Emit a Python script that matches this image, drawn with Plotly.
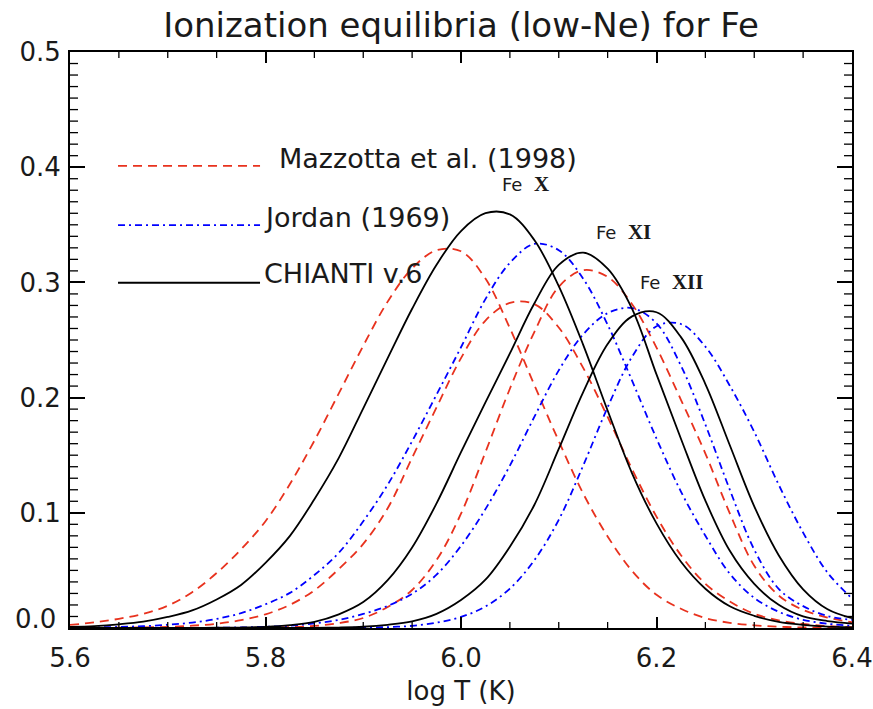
import plotly.graph_objects as go

# ---------------- data ----------------
log_t = [5.600, 5.625, 5.650, 5.675, 5.700, 5.725, 5.750, 5.775, 5.800, 5.825,
         5.850, 5.875, 5.900, 5.925, 5.950, 5.975, 6.000, 6.025, 6.050, 6.075,
         6.100, 6.125, 6.150, 6.175, 6.200, 6.225, 6.250, 6.275, 6.300, 6.325,
         6.350, 6.375, 6.400]

# Mazzotta et al. (1998)
mazz_fe10 = [0.0027, 0.0049, 0.0080, 0.0123, 0.0194, 0.0311, 0.0477, 0.0683, 0.0927, 0.1250,
             0.1626, 0.2036, 0.2450, 0.2833, 0.3122, 0.3279, 0.3270, 0.3033, 0.2603, 0.2110,
             0.1623, 0.1167, 0.0795, 0.0495, 0.0288, 0.0167, 0.0086, 0.0045, 0.0023, 0.0011,
             0.0005, 0.0002, 0.0001]
mazz_fe11 = [0.0001, 0.0001, 0.0003, 0.0005, 0.0010, 0.0020, 0.0037, 0.0068, 0.0119, 0.0201,
             0.0327, 0.0512, 0.0730, 0.1040, 0.1478, 0.1915, 0.2343, 0.2669, 0.2822, 0.2812,
             0.2608, 0.2258, 0.1832, 0.1379, 0.0967, 0.0632, 0.0384, 0.0230, 0.0123, 0.0067,
             0.0035, 0.0017, 0.0008]
mazz_fe12 = [0.0000, 0.0000, 0.0000, 0.0000, 0.0000, 0.0000, 0.0000, 0.0001, 0.0003, 0.0008,
             0.0018, 0.0042, 0.0087, 0.0182, 0.0330, 0.0590, 0.0992, 0.1526, 0.2077, 0.2569,
             0.2962, 0.3106, 0.3048, 0.2811, 0.2434, 0.1981, 0.1514, 0.0995, 0.0540, 0.0282,
             0.0157, 0.0090, 0.0050]

# Jordan (1969)
jord_fe10 = [0.0002, 0.0005, 0.0009, 0.0016, 0.0028, 0.0047, 0.0079, 0.0129, 0.0206, 0.0305,
             0.0460, 0.0653, 0.0926, 0.1244, 0.1622, 0.2026, 0.2437, 0.2855, 0.3170, 0.3334,
             0.3280, 0.3032, 0.2633, 0.2147, 0.1645, 0.1184, 0.0801, 0.0471, 0.0261, 0.0141,
             0.0071, 0.0037, 0.0019]
jord_fe11 = [0.0000, 0.0000, 0.0000, 0.0000, 0.0001, 0.0001, 0.0002, 0.0005, 0.0011, 0.0020,
             0.0040, 0.0071, 0.0122, 0.0192, 0.0297, 0.0463, 0.0713, 0.1032, 0.1410, 0.1832,
             0.2236, 0.2549, 0.2733, 0.2777, 0.2645, 0.2277, 0.1766, 0.1200, 0.0680, 0.0340,
             0.0190, 0.0104, 0.0071]
jord_fe12 = [0.0000, 0.0000, 0.0000, 0.0000, 0.0000, 0.0000, 0.0000, 0.0000, 0.0000, 0.0000,
             0.0000, 0.0001, 0.0003, 0.0008, 0.0019, 0.0047, 0.0096, 0.0187, 0.0342, 0.0588,
             0.0939, 0.1410, 0.1916, 0.2354, 0.2619, 0.2639, 0.2442, 0.2103, 0.1702, 0.1244,
             0.0828, 0.0480, 0.0256]

# CHIANTI v.6
chianti_fe10 = [0.0010, 0.0017, 0.0032, 0.0055, 0.0096, 0.0153, 0.0248, 0.0374, 0.0566, 0.0800,
                0.1118, 0.1477, 0.1907, 0.2342, 0.2771, 0.3153, 0.3446, 0.3601, 0.3590, 0.3368,
                0.2968, 0.2458, 0.1888, 0.1343, 0.0908, 0.0575, 0.0341, 0.0189, 0.0106, 0.0053,
                0.0027, 0.0012, 0.0006]
chianti_fe11 = [0.0000, 0.0000, 0.0000, 0.0000, 0.0000, 0.0001, 0.0002, 0.0004, 0.0010, 0.0025,
                0.0054, 0.0119, 0.0225, 0.0415, 0.0699, 0.1082, 0.1526, 0.1958, 0.2384, 0.2817,
                0.3152, 0.3258, 0.3119, 0.2771, 0.2201, 0.1643, 0.1105, 0.0670, 0.0383, 0.0201,
                0.0100, 0.0060, 0.0038]
chianti_fe12 = [0.0000, 0.0000, 0.0000, 0.0000, 0.0000, 0.0000, 0.0000, 0.0000, 0.0000, 0.0000,
                0.0001, 0.0004, 0.0011, 0.0028, 0.0058, 0.0123, 0.0243, 0.0419, 0.0705, 0.1068,
                0.1554, 0.2048, 0.2465, 0.2705, 0.2741, 0.2525, 0.2118, 0.1586, 0.1056, 0.0632,
                0.0336, 0.0163, 0.0086]

series_names = ["Mazzotta et al. (1998)", "Jordan (1969)", "CHIANTI v.6"]
ion_labels = ["X", "XI", "XII"]

# tick values / labels
x_tick_vals = [5.6, 5.8, 6.0, 6.2, 6.4]
x_tick_text = ["5.6", "5.8", "6.0", "6.2", "6.4"]
y_tick_vals = [0.0, 0.1, 0.2, 0.3, 0.4, 0.5]
y_tick_text = ["0.0", "0.1", "0.2", "0.3", "0.4", "0.5"]

# axis settings
X_RANGE = [5.6, 6.4]
Y_RANGE = [0.0, 0.5]
X_MAJOR, X_MINOR_N = 0.2, 4     # minor every 0.05
Y_MAJOR, Y_MINOR_N = 0.1, 10    # minor every 0.01

# ---------------- styles ----------------
RED = "#e8321e"
BLUE = "#0000ff"
BLACK = "#000000"
FONT = "DejaVu Sans"
TXT = "#1a1a1a"

styles = [
    dict(color=RED, width=1.8, dash="9px,6px"),
    dict(color=BLUE, width=1.8, dash="7px,4px,2px,4px"),
    dict(color=BLACK, width=1.8, dash="solid"),
]
model_data = [
    [mazz_fe10, mazz_fe11, mazz_fe12],
    [jord_fe10, jord_fe11, jord_fe12],
    [chianti_fe10, chianti_fe11, chianti_fe12],
]

fig = go.Figure()
for name, st, curves in zip(series_names, styles, model_data):
    for ion, yv in zip(ion_labels, curves):
        fig.add_trace(go.Scatter(
            x=log_t, y=yv, mode="lines", name=f"{name} Fe {ion}",
            line=dict(color=st["color"], width=st["width"], dash=st["dash"],
                      shape="spline", smoothing=1.0),
            showlegend=False, hoverinfo="skip"))

shapes = []
annotations = []

# ---------------- minor ticks (IDL style, all four sides) ----------------
PLOT_W, PLOT_H = 873 - 70 - 21, 709 - 52 - 81
xm_len = 6 / PLOT_H
ym_len = 8 / PLOT_W
tick_line = dict(color="black", width=1.3)
n_x = int(round((X_RANGE[1] - X_RANGE[0]) / X_MAJOR * X_MINOR_N))
for i in range(1, n_x):
    if i % X_MINOR_N == 0:
        continue
    xv = X_RANGE[0] + i * X_MAJOR / X_MINOR_N
    shapes.append(dict(type="line", xref="x", yref="paper", x0=xv, x1=xv,
                       y0=0, y1=xm_len, line=tick_line))
    shapes.append(dict(type="line", xref="x", yref="paper", x0=xv, x1=xv,
                       y0=1 - xm_len, y1=1, line=tick_line))
n_y = int(round((Y_RANGE[1] - Y_RANGE[0]) / Y_MAJOR * Y_MINOR_N))
for i in range(1, n_y):
    if i % Y_MINOR_N == 0:
        continue
    yv = Y_RANGE[0] + i * Y_MAJOR / Y_MINOR_N
    shapes.append(dict(type="line", xref="paper", yref="y", x0=0, x1=ym_len,
                       y0=yv, y1=yv, line=tick_line))
    shapes.append(dict(type="line", xref="paper", yref="y", x0=1 - ym_len, x1=1,
                       y0=yv, y1=yv, line=tick_line))

# the lowest y label sits a little above its tick in the original (IDL)
y_axis_text = list(y_tick_text)
low_label = y_axis_text[0]
y_axis_text[0] = ""
annotations.append(dict(xref="paper", yref="paper", x=-12 / PLOT_W, y=9 / PLOT_H,
                        xanchor="right", yanchor="middle", showarrow=False,
                        text=low_label, font=dict(family=FONT, size=26, color=TXT)))

# ---------------- hand-drawn legend (as in the original) ----------------
leg_x0, leg_x1 = 0.0614, 0.243
leg_rows = [0.8023, 0.6995, 0.5994]
leg_text_x = [0.2650, 0.2456, 0.2456]
leg_text_dy = [0.0125, 0.0135, 0.0165]
for st, yy, tx, dy, name in zip(styles, leg_rows, leg_text_x, leg_text_dy, series_names):
    shapes.append(dict(type="line", xref="paper", yref="paper",
                       x0=leg_x0, x1=leg_x1, y0=yy, y1=yy,
                       line=dict(color=st["color"], width=st["width"], dash=st["dash"])))
    annotations.append(dict(xref="paper", yref="paper", x=tx, y=yy + dy,
                            xanchor="left", yanchor="middle", showarrow=False,
                            text=name, font=dict(family=FONT, size=27, color=TXT)))

# ion labels
ion_pos = [(0.5500, 0.7715), (0.6700, 0.6870), (0.7265, 0.6015)]
for ion, (px, py) in zip(ion_labels, ion_pos):
    annotations.append(dict(
        xref="paper", yref="paper", x=px, y=py, xanchor="left", yanchor="middle",
        showarrow=False,
        text=("Fe  <b><span style='font-family:Liberation Serif;font-size:21px'>"
              + ion + "</span></b>"),
        font=dict(family=FONT, size=18, color=TXT)))

axis_common = dict(
    showline=True, linecolor="black", linewidth=2, mirror="ticks",
    ticks="inside", tickcolor="black", tickwidth=1.5,
    showgrid=False, zeroline=False, automargin=False,
    tickfont=dict(family=FONT, size=26, color=TXT),
    tickmode="array",
)

fig.update_layout(
    width=873, height=709,
    margin=dict(l=70, r=21, t=52, b=81),
    paper_bgcolor="white", plot_bgcolor="white",
    title=dict(text="Ionization equilibria (low-Ne) for Fe",
               x=0.5, xref="paper", xanchor="center",
               y=1 - 25 / 709, yref="container", yanchor="middle",
               font=dict(family=FONT, size=34, color=TXT)),
    xaxis=dict(range=X_RANGE, tickvals=x_tick_vals, ticktext=x_tick_text, ticklen=11,
               ticklabelstandoff=6,
               title=dict(text="log T (K)", standoff=10,
                          font=dict(family=FONT, size=26, color=TXT)),
               **axis_common),
    yaxis=dict(range=Y_RANGE, tickvals=y_tick_vals, ticktext=y_axis_text, ticklen=15,
               ticklabelstandoff=2,
               **axis_common),
    shapes=shapes,
    annotations=annotations,
)

fig.write_html("out.html",
               config={"displayModeBar": False},
               post_script="document.body.style.margin='0px';"
                           "document.body.style.overflow='hidden';")
